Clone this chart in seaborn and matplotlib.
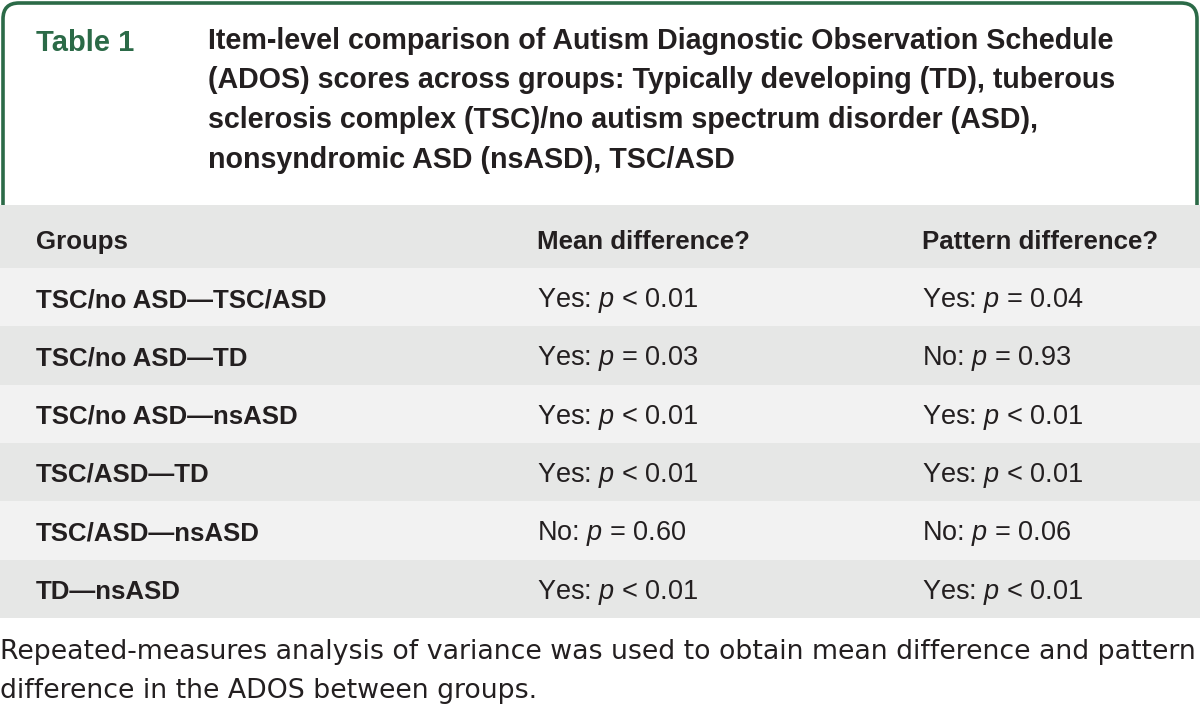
import matplotlib
matplotlib.use("Agg")
from matplotlib import pyplot as plt
from matplotlib.path import Path
from matplotlib.patches import PathPatch
import seaborn as sns
import numpy as np

# table content
table_label = "Table 1"
title_lines = [
    "Item-level comparison of Autism Diagnostic Observation Schedule",
    "(ADOS) scores across groups: Typically developing (TD), tuberous",
    "sclerosis complex (TSC)/no autism spectrum disorder (ASD),",
    "nonsyndromic ASD (nsASD), TSC/ASD",
]
col_headers = ["Groups", "Mean difference?", "Pattern difference?"]
groups = ["TSC/no ASD\u2014TSC/ASD", "TSC/no ASD\u2014TD", "TSC/no ASD\u2014nsASD",
          "TSC/ASD\u2014TD", "TSC/ASD\u2014nsASD", "TD\u2014nsASD"]
mean_diff = ["Yes", "Yes", "Yes", "Yes", "No", "Yes"]
mean_p = ["< 0.01", "= 0.03", "< 0.01", "< 0.01", "= 0.60", "< 0.01"]
pattern_diff = ["Yes", "No", "Yes", "Yes", "No", "Yes"]
pattern_p = ["= 0.04", "= 0.93", "< 0.01", "< 0.01", "= 0.06", "< 0.01"]
footnote = ["Repeated-measures analysis of variance was used to obtain mean difference and pattern",
            "difference in the ADOS between groups."]

sns.set_theme(style="white")
plt.rcParams['font.family'] = ['Liberation Sans', 'DejaVu Sans']
plt.rcParams['mathtext.fontset'] = 'custom'
plt.rcParams['mathtext.it'] = 'Liberation Sans:italic'
plt.rcParams['mathtext.rm'] = 'Liberation Sans'

green = "#2b6a47"
dark = "#231f20"
gray_head = "#e6e7e6"
gray_light = "#f2f2f2"

fig = plt.figure(figsize=(12, 7.15), dpi=100)
ax = fig.add_axes([0, 0, 1, 1])
ax.set_xlim(0, 1200)
ax.set_ylim(715, 0)
ax.axis("off")

# green caption frame with rounded top corners
r = 16
verts = [(3, 206), (3, 3 + r), (3, 3), (3 + r, 3), (1197 - r, 3), (1197, 3), (1197, 3 + r), (1197, 206)]
codes = [Path.MOVETO, Path.LINETO, Path.CURVE3, Path.CURVE3, Path.LINETO, Path.CURVE3, Path.CURVE3, Path.LINETO]
ax.add_patch(PathPatch(Path(verts, codes), fill=False, edgecolor=green, lw=2.6))

ax.text(36, 51, table_label, color=green, fontsize=21, fontweight="bold", va="baseline")
for i, line in enumerate(title_lines):
    ax.text(208, 49 + i * 39.5, line, color=dark, fontsize=20.6, fontweight="bold", va="baseline")

# rows
top = 205
head_h = 63
row_h = (618 - top - head_h) / len(groups)
col_x = [36, 537, 922]
ax.axhspan(top, top + head_h, color=gray_head, lw=0)
for j, h in enumerate(col_headers):
    ax.text(col_x[j], 249, h, color=dark, fontsize=18.6, fontweight="bold", va="baseline")

for i in range(len(groups)):
    y0 = top + head_h + i * row_h
    ax.axhspan(y0, y0 + row_h, color=gray_light if i % 2 == 0 else gray_head, lw=0)
    yb = y0 + 39
    ax.text(col_x[0], yb, groups[i], color=dark, fontsize=18.6, fontweight="bold", va="baseline")
    ax.text(col_x[1], yb, f"{mean_diff[i]}: $p$ {mean_p[i]}", color=dark, fontsize=19.5, va="baseline")
    ax.text(col_x[2], yb, f"{pattern_diff[i]}: $p$ {pattern_p[i]}", color=dark, fontsize=19.5, va="baseline")

for i, line in enumerate(footnote):
    ax.text(0, 659 + i * 39, line, color=dark, fontsize=19.3, va="baseline",
            family=["DejaVu Sans"])

fig.savefig("out.png", dpi=100)
